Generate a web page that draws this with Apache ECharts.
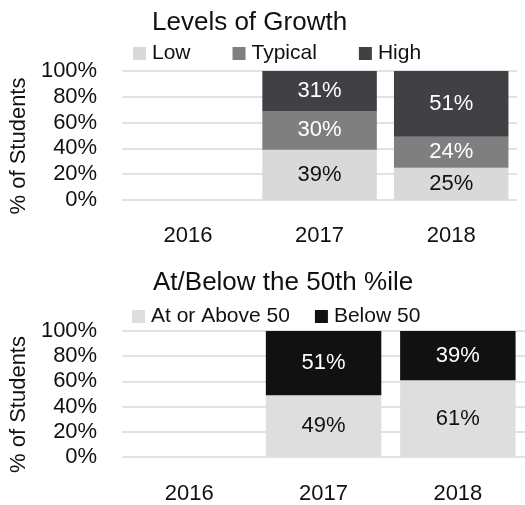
<!DOCTYPE html>
<html>
<head>
<meta charset="utf-8">
<script src="https://cdn.jsdelivr.net/npm/echarts@6/dist/echarts.min.js"></script>
<style>html,body{margin:0;padding:0;background:#fff;}#c{width:525px;height:505px;}</style>
</head>
<body>
<div id="c"></div>
<script>
var categories = ['2016', '2017', '2018'];
// Levels of Growth
var low = [null, 39, 25];
var typical = [null, 30, 24];
var high = [null, 31, 51];
// At/Below the 50th %ile
var atAbove = [null, 49, 61];
var below = [null, 51, 39];

var FONT = "'Liberation Sans', Arial, sans-serif";
var chart = echarts.init(document.getElementById('c'), null, {renderer: 'canvas'});

function yAx(gi, gap) {
  return {
    type: 'value', gridIndex: gi, min: 0, max: 100, interval: 20,
    name: '% of Students', nameLocation: 'middle', nameGap: gap,
    nameTextStyle: {fontFamily: FONT, fontSize: 22, color: '#111', padding: [0, 21, 0, 0]},
    axisLine: {show: false}, axisTick: {show: false},
    axisLabel: {fontFamily: FONT, fontSize: 22, color: '#111', margin: 25, formatter: '{value}%'},
    splitLine: {show: true, lineStyle: {color: '#d9d9d9', width: 1.5}}
  };
}
function xAx(gi, margin) {
  return {
    type: 'category', gridIndex: gi, data: categories,
    axisLine: {show: false}, axisTick: {show: false},
    axisLabel: {fontFamily: FONT, fontSize: 22, color: '#111', margin: margin}
  };
}
function bar(name, data, color, labelColor, xi, gap) {
  return {
    name: name, type: 'bar', stack: 's' + xi, xAxisIndex: xi, yAxisIndex: xi,
    data: data, barCategoryGap: gap,
    itemStyle: {color: color},
    label: {show: true, position: 'inside', formatter: '{c}%', fontFamily: FONT, fontSize: 22, color: labelColor},
    emphasis: {disabled: true}
  };
}

chart.setOption({
  animation: false,
  title: [
    {text: 'Levels of Growth', left: 152, top: 10, padding: 0, textStyle: {fontFamily: FONT, fontSize: 26, fontWeight: 'normal', color: '#111'}},
    {text: 'At/Below the 50th %ile', left: 153, top: 270, padding: 0, textStyle: {fontFamily: FONT, fontSize: 26, fontWeight: 'normal', color: '#111'}}
  ],
  legend: [
    {data: ['Low', 'Typical', 'High'], left: 133, top: 43, padding: 0, itemGap: 42, itemWidth: 13, itemHeight: 13, icon: 'rect',
     textStyle: {fontFamily: FONT, fontSize: 21, color: '#111', padding: [0, 0, 0, 1]}},
    {data: ['At or Above 50', 'Below 50'], left: 132, top: 306, padding: 0, itemGap: 25, itemWidth: 13, itemHeight: 13, icon: 'rect',
     textStyle: {fontFamily: FONT, fontSize: 21, color: '#111', padding: [0, 0, 0, 1]}}
  ],
  grid: [
    {left: 114, right: 8, top: 71, height: 129},
    {left: 116, right: -8, top: 331, height: 130}
  ],
  xAxis: [xAx(0, 25), xAx(1, 26)],
  yAxis: [yAx(0, 75), yAx(1, 77)],
  series: [
    bar('Low', low, '#d9d9d9', '#111', 0, '13%'),
    bar('Typical', typical, '#7f7f7f', '#fff', 0, '13%'),
    bar('High', high, '#404045', '#fff', 0, '13%'),
    bar('At or Above 50', atAbove, '#dedede', '#111', 1, '14%'),
    bar('Below 50', below, '#111111', '#fff', 1, '14%')
  ]
});
</script>
</body>
</html>
